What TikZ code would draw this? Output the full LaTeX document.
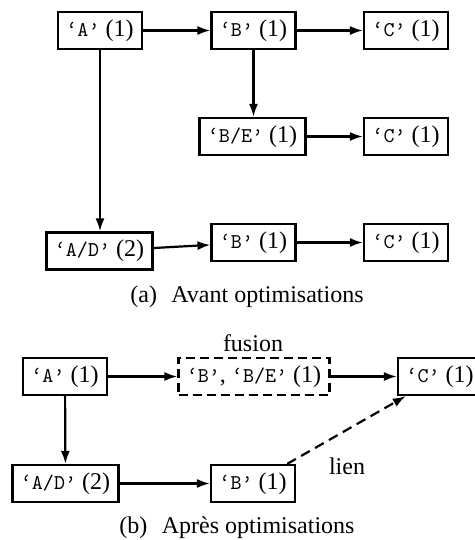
\documentclass[tikz,border=0pt]{standalone}
\usepackage{fontspec}
\setmainfont{Liberation Serif}
\usetikzlibrary{arrows.meta}
\tikzset{
  box/.style={draw, line width=1.1pt, minimum height=18.5pt, inner xsep=4.2pt, inner ysep=2pt, font=\fontsize{12}{14}\selectfont},
  fbox/.style={box, dash pattern=on 4.5pt off 2.5pt},
  arr/.style={line width=1.1pt, -{Latex[length=6.5pt,width=4.5pt]}},
  darr/.style={arr, dash pattern=on 5pt off 3pt},
  lbl/.style={font=\fontsize{12}{14}\selectfont, inner sep=0pt},
}
\newcommand{\tq}[1]{{\fontsize{10.5}{12}\ttfamily ‘#1’}}
\begin{document}
\begin{tikzpicture}[x=0.5pt, y=-0.5pt]
\useasboundingbox (0,0) rectangle (475,540);
% (a)
\node[box] (a1) at (100,30.5) {\tq{A} (1)};
\node[box] (b1) at (253.5,30.5) {\tq{B} (1)};
\node[box] (c1) at (406,30.5) {\tq{C} (1)};
\node[box] (be) at (252.5,136.5) {\tq{B/E} (1)};
\node[box] (c2) at (406,136.5) {\tq{C} (1)};
\node[box] (ad) at (99.5,251) {\tq{A/D} (2)};
\node[box] (b2) at (253.5,242.5) {\tq{B} (1)};
\node[box] (c3) at (406,242.5) {\tq{C} (1)};
\node[lbl] (capa) at (247,297) {(a)\hskip0.6em Avant optimisations};
\draw[arr] (a1) -- (b1);
\draw[arr] (b1) -- (c1);
\draw[arr] (b1.south) -- (b1.south |- be.north);
\draw[arr] (be) -- (c2);
\draw[arr] (a1.south) -- (a1.south |- ad.north);
\draw[arr] (ad) -- (b2);
\draw[arr] (b2) -- (c3);
% (b)
\node[box] (a) at (65,376.5) {\tq{A} (1)};
\node[fbox] (f) at (254,376.5) {\tq{B}, \tq{B/E} (1)};
\node[box] (c) at (440,376.5) {\tq{C} (1)};
\node[box] (adb) at (65.5,483.5) {\tq{A/D} (2)};
\node[box] (bb) at (253,483.5) {\tq{B} (1)};
\node[lbl] (fus) at (253,343) {fusion};
\node[lbl] (lien) at (347,466) {lien};
\node[lbl] (capb) at (237,528) {(b)\hskip0.6em Après optimisations};
\draw[arr] (a) -- (f);
\draw[arr] (f) -- (c);
\draw[arr] (a) -- (adb);
\draw[arr] (adb) -- (bb);
\draw[darr] (bb) -- (c);
\end{tikzpicture}
\end{document}
